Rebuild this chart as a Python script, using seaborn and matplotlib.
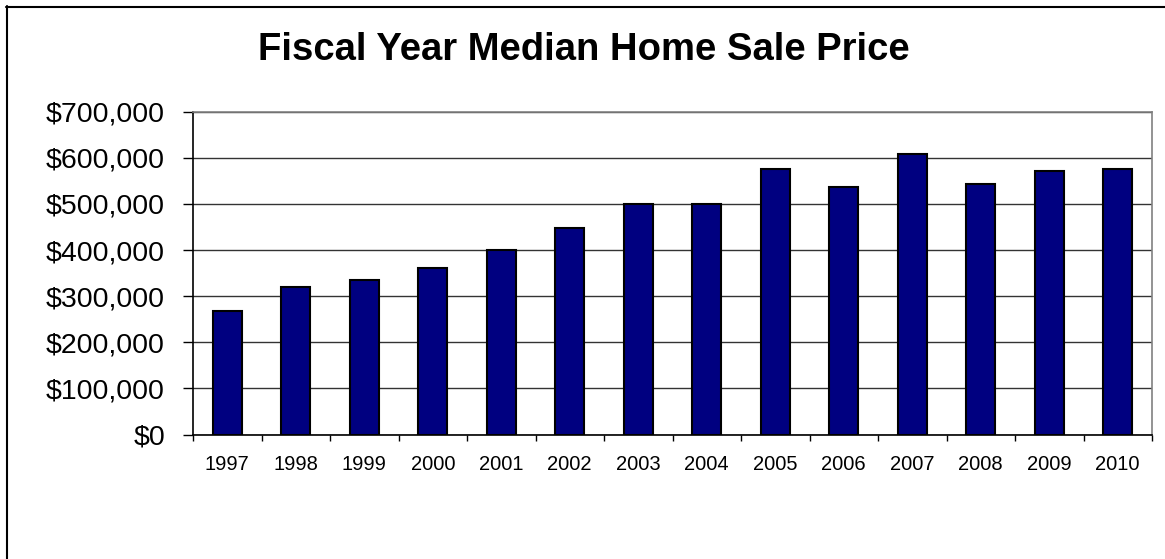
import matplotlib
matplotlib.use("Agg")
import matplotlib.pyplot as plt
import seaborn as sns
import pandas as pd
from matplotlib.ticker import FuncFormatter, MultipleLocator, FixedLocator
from matplotlib.lines import Line2D

years = ["1997", "1998", "1999", "2000", "2001", "2002", "2003",
         "2004", "2005", "2006", "2007", "2008", "2009", "2010"]
prices = [268000, 320000, 336000, 360000, 400000, 448000, 500000,
          500000, 575000, 536000, 608000, 544000, 571000, 575000]
title = "Fiscal Year Median Home Sale Price"

sns.set_theme(style="white")
plt.rcParams["font.family"] = ["Liberation Sans", "DejaVu Sans"]

df = pd.DataFrame({"year": years, "price": prices})

fig = plt.figure(figsize=(11.65, 5.59), dpi=100)
ax = fig.add_axes([193 / 1165, 1 - 434.5 / 559, (1152 - 193) / 1165, (434.5 - 111.7) / 559])

sns.barplot(data=df, x="year", y="price", order=years, color="#000080",
            saturation=1, width=0.42, edgecolor="black", linewidth=1.5, ax=ax, zorder=3)

ax.set_xlim(-0.5, len(years) - 0.5)
ax.set_ylim(0, 700000)
ax.yaxis.set_major_locator(MultipleLocator(100000))
ax.yaxis.set_major_formatter(FuncFormatter(lambda v, p: "${:,.0f}".format(v)))
ax.yaxis.grid(True, color="#333333", linewidth=1.0, zorder=0)
ax.xaxis.grid(False)
ax.set_xlabel("")
ax.set_ylabel("")

ax.tick_params(axis="y", which="major", left=True, length=7.2, width=1, color="black",
               pad=13, labelsize=20.5, labelcolor="black")
ax.tick_params(axis="x", which="major", bottom=False, length=0, pad=15,
               labelsize=14.5, labelcolor="black")
ax.xaxis.set_minor_locator(FixedLocator([i - 0.5 for i in range(len(years) + 1)]))
ax.tick_params(axis="x", which="minor", bottom=True, length=4.5, width=1, color="black")

for side in ["left", "bottom"]:
    ax.spines[side].set_color("black")
    ax.spines[side].set_linewidth(1.2)
for side in ["top", "right"]:
    ax.spines[side].set_visible(True)
    ax.spines[side].set_color("#808080")
    ax.spines[side].set_linewidth(1.2)

fig.text(584 / 1165, 1 - 50 / 559, title, ha="center", va="center",
         fontsize=27.5, fontweight="bold", color="black")

fig.add_artist(Line2D([6 / 1165, 1.0], [1 - 6.5 / 559, 1 - 6.5 / 559],
                      transform=fig.transFigure, color="black", linewidth=1.5))
fig.add_artist(Line2D([6.5 / 1165, 6.5 / 1165], [0, 1 - 6 / 559],
                      transform=fig.transFigure, color="black", linewidth=1.5))

fig.savefig("out.png", dpi=100)
